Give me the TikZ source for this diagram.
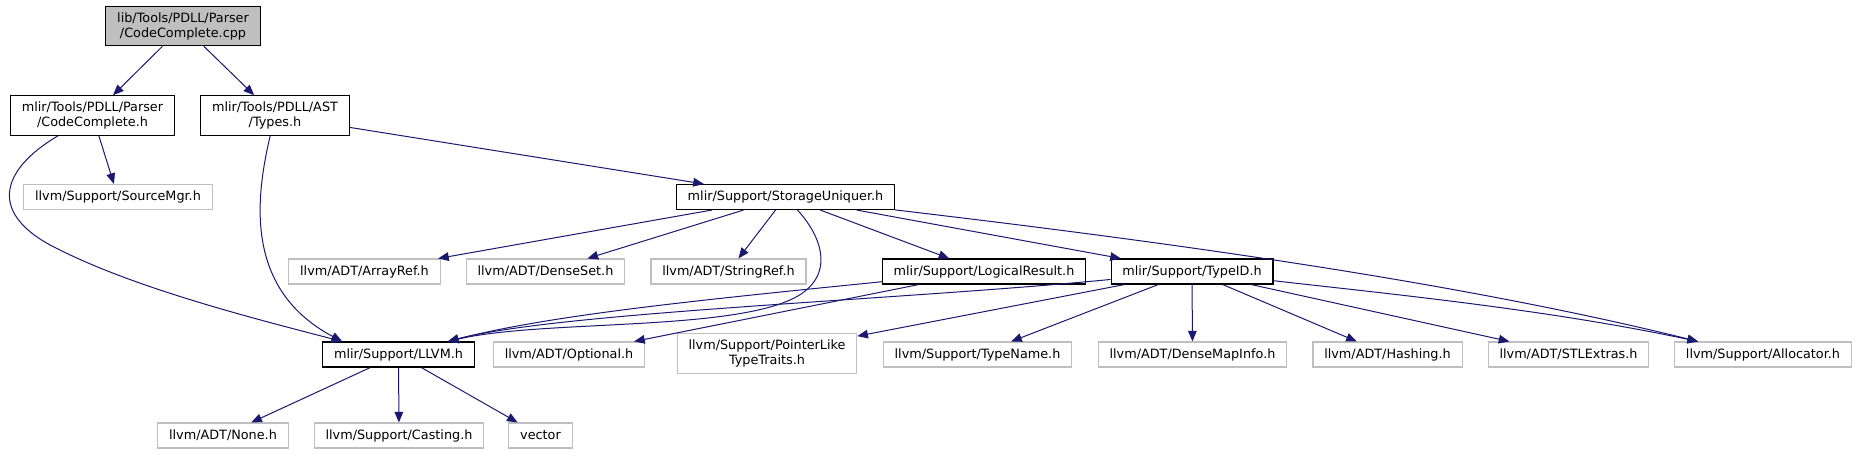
\documentclass[tikz,border=0pt]{standalone}
\usepackage{fontspec}
\setmainfont{DejaVu Sans}
\usetikzlibrary{arrows.meta,calc}

\definecolor{edgeblue}{HTML}{191970}
\definecolor{framegray}{HTML}{BFBFBF}

\tikzset{
  file/.style={draw=black, line width=0.8pt, fill=white, inner xsep=8.5pt, inner ysep=2pt,
    minimum height=18.75pt, align=center, font=\fontsize{9.6}{11.25}\selectfont},
  sysfile/.style={file, draw=framegray},
  twoline/.style={minimum height=29.6pt},
  dep/.style={draw=edgeblue, line width=0.75pt, -{Triangle[length=8pt,width=6.5pt]}}
}

\begin{document}
\begin{tikzpicture}[x=0.75pt, y=-0.75pt] % 1 单位 = 1 像素, y 向下
    \useasboundingbox (0,0) rectangle (1858,455);

    % === 第 0 层 ===
    \node[file, twoline, fill=framegray] (root) at (183,26) {lib/Tools/PDLL/Parser\\/CodeComplete.cpp};

    % === 第 1 层 ===
    \node[file, twoline] (cch) at (92.5,115.5) {mlir/Tools/PDLL/Parser\\/CodeComplete.h};
    \node[file, twoline] (types) at (275,115.5) {mlir/Tools/PDLL/AST\\/Types.h};

    % === 第 2 层 ===
    \node[sysfile] (srcmgr) at (118,197) {llvm/Support/SourceMgr.h};
    \node[file] (uniquer) at (785.5,197) {mlir/Support/StorageUniquer.h};

    % === 第 3 层 ===
    \node[sysfile] (arrayref) at (364.5,271.5) {llvm/ADT/ArrayRef.h};
    \node[sysfile] (denseset) at (545.5,271.5) {llvm/ADT/DenseSet.h};
    \node[sysfile] (stringref) at (728.5,271.5) {llvm/ADT/StringRef.h};
    \node[file] (logres) at (984,271.5) {mlir/Support/LogicalResult.h};
    \node[file] (typeid) at (1192,271.5) {mlir/Support/TypeID.h};

    % === 第 4 层 ===
    \node[file] (llvm) at (398.5,354.5) {mlir/Support/LLVM.h};
    \node[sysfile] (optional) at (569,354.5) {llvm/ADT/Optional.h};
    \node[sysfile, twoline] (ptrlike) at (767,353.5) {llvm/Support/PointerLike\\TypeTraits.h};
    \node[sysfile] (typename) at (977.5,354.5) {llvm/Support/TypeName.h};
    \node[sysfile] (densemap) at (1192.5,354.5) {llvm/ADT/DenseMapInfo.h};
    \node[sysfile] (hashing) at (1387.5,354.5) {llvm/ADT/Hashing.h};
    \node[sysfile] (stlextras) at (1568.5,354.5) {llvm/ADT/STLExtras.h};
    \node[sysfile] (allocator) at (1763,354.5) {llvm/Support/Allocator.h};

    % === 第 5 层 ===
    \node[sysfile] (none) at (223,435.5) {llvm/ADT/None.h};
    \node[sysfile] (casting) at (399,435.5) {llvm/Support/Casting.h};
    \node[sysfile] (vector) at (540.5,435.5) {vector};

    % 汇入 LLVM.h 的两个落点
    \coordinate (llvmL) at ($(llvm.north west)+(20,0)$);
    \coordinate (llvmR) at ($(llvm.north east)+(-27,0)$);
    \coordinate (allocIn) at ($(allocator.north west)+(24,0)$);

    % === 直线依赖 ===
    \draw[dep] (root) -- (cch);
    \draw[dep] (root) -- (types);
    \draw[dep] (cch) -- (srcmgr);
    \draw[dep] (types) -- (uniquer);
    \draw[dep] (uniquer) -- (arrayref);
    \draw[dep] (uniquer) -- (denseset);
    \draw[dep] (uniquer) -- (stringref);
    \draw[dep] (uniquer) -- (logres);
    \draw[dep] (uniquer) -- (typeid);
    \draw[dep] (logres) -- (optional);
    \draw[dep] (typeid) -- (ptrlike);
    \draw[dep] (typeid) -- (typename);
    \draw[dep] (typeid) -- (densemap);
    \draw[dep] (typeid) -- (hashing);
    \draw[dep] (typeid) -- (stlextras);
    \draw[dep] (llvm) -- (none);
    \draw[dep] (llvm) -- (casting);
    \draw[dep] (llvm) -- (vector);

    % === 弯曲依赖 ===
    \draw[dep] (cch) .. controls (0,170) and (-14,215) .. (60,250)
        .. controls (140,290) and (260,320) .. (llvmL);
    \draw[dep] (types) .. controls (255,200) and (245,290) .. (llvmL);
    \draw[dep] (uniquer) .. controls (825,240) and (835,280) .. (790,300)
        .. controls (720,331) and (540,320) .. (llvmR);
    \draw[dep] (logres) .. controls (700,300) and (550,315) .. (llvmR);
    \draw[dep] (typeid) .. controls (900,300) and (560,312) .. (llvmR);
    \draw[dep] (uniquer) .. controls (1150,240) and (1450,280) .. (allocIn);
    \draw[dep] (typeid) .. controls (1400,295) and (1550,310) .. (allocIn);
\end{tikzpicture}
\end{document}
